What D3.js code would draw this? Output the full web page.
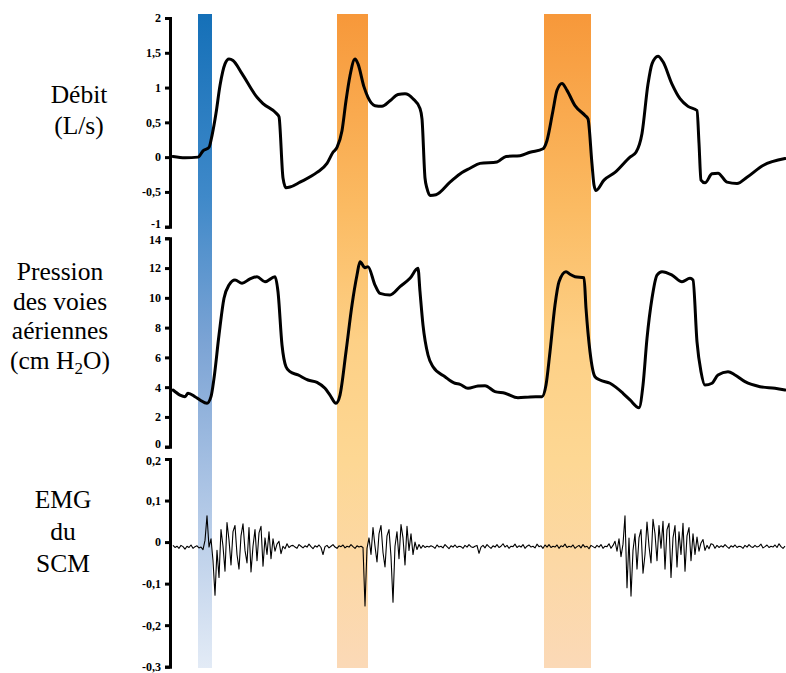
<!DOCTYPE html>
<html><head><meta charset="utf-8">
<script src="https://cdn.jsdelivr.net/npm/d3@7"></script>
<style>
html,body{margin:0;padding:0;background:#fff;}
svg{display:block;}
</style></head>
<body>
<svg id="chart" width="786" height="673"></svg>
<script>
// ---------- DATA ----------
// time in seconds (trace starts at 0)
const flowTime = [0.00,0.12,0.25,0.30,0.36,0.39,0.43,0.47,0.52,0.56,0.60,0.69,0.84,0.90,1.04,1.06,1.10,1.13,1.17,1.27,1.44,1.54,1.60,1.64,1.69,1.73,1.77,1.82,1.85,1.91,1.95,2.02,2.09,2.17,2.25,2.32,2.40,2.47,2.49,2.52,2.54,2.57,2.63,2.77,2.89,2.97,3.07,3.24,3.33,3.47,3.57,3.70,3.74,3.80,3.84,3.89,3.94,4.02,4.12,4.15,4.19,4.21,4.23,4.31,4.42,4.57,4.63,4.69,4.75,4.79,4.85,4.90,4.99,5.07,5.15,5.24,5.26,5.28,5.32,5.39,5.45,5.54,5.64,5.74,5.90,6.12];
const flowValues = [0.01,-0.01,0.00,0.09,0.14,0.31,0.63,1.03,1.34,1.41,1.39,1.20,0.86,0.77,0.62,0.58,-0.30,-0.44,-0.43,-0.36,-0.22,-0.09,0.07,0.14,0.38,0.81,1.17,1.41,1.34,1.01,0.86,0.74,0.73,0.81,0.90,0.91,0.84,0.70,0.55,-0.30,-0.45,-0.55,-0.54,-0.36,-0.22,-0.16,-0.09,-0.07,0.01,0.02,0.07,0.12,0.24,0.67,0.96,1.06,0.96,0.74,0.60,0.55,-0.10,-0.40,-0.48,-0.33,-0.22,0.00,0.07,0.34,1.05,1.34,1.45,1.37,1.05,0.84,0.73,0.67,0.20,-0.33,-0.37,-0.24,-0.23,-0.36,-0.38,-0.29,-0.12,-0.02];

const pressTime = [0.00,0.07,0.12,0.15,0.22,0.27,0.34,0.38,0.41,0.46,0.51,0.56,0.62,0.69,0.77,0.84,0.92,1.02,1.05,1.09,1.13,1.17,1.25,1.35,1.44,1.52,1.57,1.63,1.67,1.73,1.79,1.84,1.87,1.92,1.95,2.02,2.07,2.17,2.27,2.37,2.45,2.47,2.50,2.55,2.60,2.72,2.82,2.87,2.95,3.05,3.12,3.22,3.32,3.45,3.57,3.69,3.73,3.77,3.82,3.86,3.93,3.97,4.02,4.11,4.13,4.17,4.22,4.27,4.37,4.50,4.57,4.66,4.70,4.74,4.79,4.84,4.89,4.99,5.09,5.17,5.20,5.24,5.28,5.32,5.39,5.45,5.55,5.62,5.72,5.87,6.02,6.12];
const pressValues = [3.81,3.47,3.36,3.59,3.36,3.14,2.92,3.36,4.59,7.50,9.97,10.86,11.20,10.98,11.27,11.42,11.08,11.42,10.41,6.83,5.37,5.04,4.82,4.48,4.32,3.92,3.47,2.92,3.47,6.38,9.52,11.53,12.43,12.03,12.09,10.86,10.30,10.19,10.75,11.31,11.98,10.41,8.17,6.16,5.37,4.70,4.26,4.19,3.92,4.08,4.10,3.70,3.59,3.29,3.34,3.36,4.14,6.38,9.52,11.08,11.76,11.58,11.42,11.35,9.30,6.38,4.70,4.48,4.26,3.59,3.14,2.62,4.14,7.28,9.97,11.53,11.76,11.53,11.08,11.31,11.20,7.05,5.04,4.14,4.26,4.82,5.04,4.82,4.37,4.03,3.92,3.81];

// EMG sampled every 0.02 s from t = 0
const emgStep = 0.02;
const emgValues = [
 -0.008,-0.013,-0.010,-0.015,-0.008,-0.011,-0.017,-0.010,-0.013,-0.007,
 -0.015,-0.011,-0.009,-0.014,-0.012,-0.018,0.004,0.063,-0.012,0.008,
 -0.045,-0.128,-0.020,-0.085,0.030,-0.010,-0.070,0.047,0.005,-0.055,
 0.025,0.040,-0.030,-0.065,0.015,0.044,-0.020,-0.050,0.035,-0.072,
 -0.010,0.030,-0.045,0.022,0.038,-0.058,0.010,-0.030,0.025,-0.040,
 0.008,-0.022,-0.005,0.002,-0.028,-0.010,-0.016,-0.004,-0.013,-0.009,
 -0.008,-0.012,-0.015,-0.006,-0.010,-0.014,-0.009,-0.012,-0.005,-0.011,
 -0.016,-0.009,-0.012,-0.007,-0.013,-0.030,-0.011,-0.008,-0.014,-0.010,
 -0.006,-0.012,-0.015,-0.009,-0.011,-0.007,-0.014,-0.010,-0.012,-0.006,
 -0.011,-0.015,-0.009,-0.012,-0.010,-0.013,-0.154,-0.015,0.010,-0.030,
 0.035,-0.010,-0.048,0.020,0.040,-0.025,-0.060,0.015,0.030,-0.035,
 -0.145,-0.010,0.025,-0.040,0.042,0.010,-0.055,0.038,-0.020,0.020,
 -0.030,0.000,-0.018,-0.006,-0.015,-0.008,-0.013,-0.010,-0.012,-0.009,
 -0.011,-0.015,-0.007,-0.012,-0.010,-0.014,-0.006,-0.011,-0.016,-0.009,
 -0.012,-0.007,-0.013,-0.010,-0.011,-0.015,-0.008,-0.012,-0.006,-0.011,
 -0.013,-0.010,-0.008,-0.027,-0.012,-0.008,-0.014,-0.006,-0.011,-0.015,
 -0.009,-0.012,-0.006,-0.013,-0.010,-0.004,-0.012,-0.008,-0.015,-0.010,
 -0.011,-0.005,-0.013,-0.009,-0.012,-0.006,-0.015,-0.010,-0.007,-0.012,
 -0.010,-0.014,-0.005,-0.011,-0.009,-0.015,-0.007,-0.012,-0.006,-0.013,
 -0.010,-0.012,-0.007,-0.015,-0.009,-0.011,-0.005,-0.013,-0.010,-0.012,
 -0.007,-0.015,-0.011,-0.008,-0.014,-0.006,-0.012,-0.010,-0.016,-0.008,
 -0.011,-0.014,-0.008,-0.012,-0.006,-0.015,-0.010,-0.011,-0.004,-0.015,
 -0.008,0.002,-0.022,0.008,-0.035,-0.005,0.063,-0.110,0.010,-0.130,
 -0.020,0.020,-0.065,0.010,0.030,-0.075,-0.030,0.048,-0.010,-0.050,
 0.055,0.020,-0.045,0.040,-0.015,0.050,-0.065,0.030,0.045,-0.085,
 0.010,0.040,-0.060,0.025,-0.030,0.045,-0.070,0.015,0.035,-0.045,
 0.020,-0.030,0.012,-0.022,-0.002,0.006,-0.020,-0.008,-0.016,-0.004,
 -0.006,-0.015,-0.008,-0.013,-0.009,-0.012,-0.006,-0.011,-0.015,-0.009,
 -0.012,-0.007,-0.013,-0.010,-0.011,-0.015,-0.008,-0.012,-0.006,-0.011,
 -0.013,-0.008,-0.012,-0.010,-0.005,-0.014,-0.011,-0.007,-0.013,-0.010,
 -0.012,-0.007,-0.013,-0.004,-0.011,-0.015,-0.010
];

// highlighted intervals (s)
const bandStarts = [0.25, 1.64, 3.71];
const bandEnds   = [0.39, 1.95, 4.18];
const bandKinds  = ["blue", "orange", "orange"];

const flowTicks  = [-1, -0.5, 0, 0.5, 1, 1.5, 2];
const pressTicks = [0, 2, 4, 6, 8, 10, 12, 14];
const emgTicks   = [-0.3, -0.2, -0.1, 0, 0.1, 0.2];

const flowTitle  = ["Débit", "(L/s)"];
const pressTitle = ["Pression", "des voies", "aériennes", "(cm H₂O)"];
const emgTitle   = ["EMG", "du", "SCM"];

// ---------- CHART ----------
const SERIF = "'Liberation Serif'";
const svg = d3.select("#chart");
const locale = d3.formatLocale({decimal: ",", thousands: " ", grouping: [3], currency: ["", ""], minus: "-"});
const fmt = locale.format("~g");

const x = d3.scaleLinear().domain([0, 6.12]).range([173, 785]);
const yFlow = d3.scaleLinear().domain([-1, 2]).range([226.7, 18]);
const yPress = d3.scaleLinear().domain([0, 14]).range([446.7, 238.3]);
const yEmg = d3.scaleLinear().domain([-0.3, 0.2]).range([666.7, 459]);

const defs = svg.append("defs");
const gradStops = {
  blue: [[0, "#1570b8"], [0.28, "#3f89c9"], [0.5, "#7ba3d4"], [0.72, "#aac3e4"], [1, "#e3ebf6"]],
  orange: [[0, "#f7983a"], [0.3, "#fbbb63"], [0.5, "#fdd086"], [0.68, "#fdd793"], [1, "#fbd9b7"]]
};
Object.entries(gradStops).forEach(([k, stops]) => {
  const g = defs.append("linearGradient").attr("id", "grad-" + k)
    .attr("x1", 0).attr("y1", 0).attr("x2", 0).attr("y2", 1);
  stops.forEach(s => g.append("stop").attr("offset", s[0]).attr("stop-color", s[1]));
});

const bands = bandStarts.map((s, i) => ({s, e: bandEnds[i], k: bandKinds[i]}));
svg.append("g").selectAll("rect").data(bands).join("rect")
  .attr("x", d => x(d.s)).attr("width", d => x(d.e) - x(d.s))
  .attr("y", 14).attr("height", 668 - 14)
  .attr("fill", d => "url(#grad-" + d.k + ")");

function drawAxis(scale, ticks) {
  const g = svg.append("g").attr("transform", "translate(170,0)")
    .call(d3.axisLeft(scale).tickValues(ticks).tickFormat(fmt).tickSize(5).tickSizeOuter(5).tickPadding(4));
  g.attr("font-family", SERIF).attr("font-size", 12).attr("font-weight", "bold");
  g.select(".domain").attr("stroke", "#000").attr("stroke-width", 3).attr("fill", "none");
  g.selectAll(".tick line").attr("stroke", "#000").attr("stroke-width", 3);
  g.selectAll(".tick text").attr("fill", "#000")
    .attr("font-family", SERIF).attr("font-weight", "bold").attr("font-size", 12);
  return g;
}
const axFlow = drawAxis(yFlow, flowTicks);
const axPress = drawAxis(yPress, pressTicks);
const axEmg = drawAxis(yEmg, emgTicks);
// nudge the touching end labels apart slightly
axFlow.selectAll(".tick text").filter(d => d === -1).attr("dy", "0.1em");
axPress.selectAll(".tick text").filter(d => d === 14).attr("dy", "0.45em");
axPress.selectAll(".tick text").filter(d => d === 0).attr("dy", "0.1em");
axEmg.selectAll(".tick text").filter(d => d === 0.2).attr("dy", "0.45em");

function drawTitle(lines, cx, firstBaseline, step) {
  const t = svg.append("g");
  lines.forEach((ln, i) => {
    const txt = t.append("text").attr("x", cx).attr("y", firstBaseline + i * step)
      .attr("font-family", SERIF).attr("font-size", 25.5).attr("fill", "#000").attr("text-anchor", "middle");
    if (ln.includes("₂")) {
      const parts = ln.split("₂");
      txt.append("tspan").text(parts[0]);
      txt.append("tspan").attr("dy", 5).attr("font-size", 17).text("2");
      txt.append("tspan").attr("dy", -5).text(parts[1]);
    } else {
      txt.text(ln);
    }
  });
}
drawTitle(flowTitle, 79, 103, 31);
drawTitle(pressTitle, 60, 280, 29.5);
drawTitle(emgTitle, 63, 508, 32);

const lineFlow = d3.line().x((d, i) => x(flowTime[i])).y(d => yFlow(d)).curve(d3.curveMonotoneX);
const linePress = d3.line().x((d, i) => x(pressTime[i])).y(d => yPress(d)).curve(d3.curveMonotoneX);
const lineEmg = d3.line().x((d, i) => x(i * emgStep)).y(d => yEmg(d));

svg.append("path").datum(flowValues).attr("d", lineFlow)
  .attr("fill", "none").attr("stroke", "#000").attr("stroke-width", 3)
  .attr("stroke-linejoin", "round").attr("stroke-linecap", "round");
svg.append("path").datum(pressValues).attr("d", linePress)
  .attr("fill", "none").attr("stroke", "#000").attr("stroke-width", 3)
  .attr("stroke-linejoin", "round").attr("stroke-linecap", "round");
svg.append("path").datum(emgValues).attr("d", lineEmg)
  .attr("fill", "none").attr("stroke", "#000").attr("stroke-width", 1.1)
  .attr("stroke-linejoin", "round");
</script>
</body></html>
